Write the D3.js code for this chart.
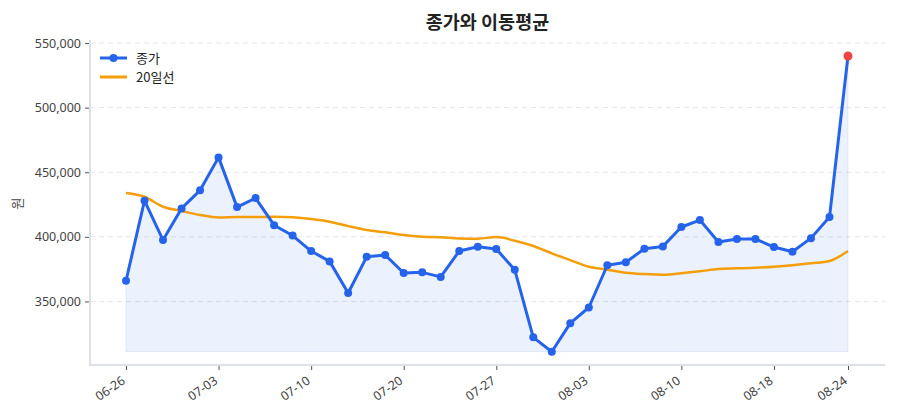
<!DOCTYPE html>
<html>
<head>
<meta charset="utf-8">
<script src="https://cdn.jsdelivr.net/npm/d3@7"></script>
<style>
  html, body { margin: 0; padding: 0; background: #fff; }
  svg { display: block; font-family: "Noto Sans CJK KR", "Noto Sans", sans-serif; }
</style>
</head>
<body>
<svg id="chart" width="900" height="420"></svg>
<script>
const dates = ["06-26","06-29","06-30","07-01","07-02","07-03","07-06","07-07","07-08","07-09",
               "07-10","07-13","07-14","07-15","07-16","07-20","07-21","07-22","07-23","07-24",
               "07-27","07-28","07-29","07-30","07-31","08-03","08-04","08-05","08-06","08-07",
               "08-10","08-11","08-12","08-13","08-14","08-18","08-19","08-20","08-21","08-24"];
const close = [366000,428000,397500,422000,436000,461500,423000,430000,409000,401000,
               389000,381000,356500,384500,386000,372000,372500,369000,389000,392300,
               390600,374500,322200,311100,333200,345300,378000,380300,390800,392600,
               407600,413000,396000,398300,398300,392100,388500,399000,415300,540000];
const ma20 = [434000,431000,423300,420000,416900,415000,415300,415300,415500,415100,
              413800,411700,408300,405300,403500,401400,400100,399600,398800,398600,
              399800,397000,392900,387200,382000,376900,374600,372200,371200,370700,
              371800,373300,375100,375600,376100,376900,378000,379500,381300,389000];
const tickLabels = ["06-26","07-03","07-10","07-20","07-27","08-03","08-10","08-18","08-24"];
const yTicks = [350000,400000,450000,500000,550000];
const seriesNames = ["종가","20일선"];
const titleText = "종가와 이동평균";
const yLabel = "원";

const svg = d3.select("#chart");
const mLeft = 90, mRight = 885, mTop = 42, mBottom = 365;

const x = d3.scalePoint().domain(dates).range([126, 848]);
const y = d3.scaleLinear().domain([300800, 550800]).range([mBottom, mTop]);

// grid
svg.append("g").selectAll("line").data(yTicks).join("line")
  .attr("x1", mLeft).attr("x2", mRight)
  .attr("y1", d => y(d)).attr("y2", d => y(d))
  .attr("stroke", "#e3e5ea").attr("stroke-dasharray", "5,4").attr("stroke-width", 1);

// area
const base = d3.min(close);
const area = d3.area().x((d, i) => x(dates[i])).y0(y(base)).y1(d => y(d));
svg.append("path").datum(close).attr("d", area)
  .attr("fill", "rgba(37,99,235,0.085)").attr("stroke", "rgba(37,99,235,0.10)").attr("stroke-width", 1);

// axes
const yAxis = d3.axisLeft(y).tickValues(yTicks).tickFormat(d3.format(",")).tickSize(5).tickPadding(4);
const gy = svg.append("g").attr("transform", `translate(${mLeft},0)`).call(yAxis);
gy.select(".domain").remove();
gy.append("line").attr("x1", 0).attr("x2", 0).attr("y1", mTop - 2).attr("y2", mBottom)
  .attr("stroke", "#dde0e6").attr("stroke-width", 2);
gy.selectAll(".tick line").attr("stroke", "#555");
gy.selectAll(".tick text").attr("fill", "#444").attr("font-size", 12.5)
  .attr("font-family", "'Noto Sans', sans-serif");

const xAxis = d3.axisBottom(x).tickValues(tickLabels).tickSize(5).tickPadding(6);
const gx = svg.append("g").attr("transform", `translate(0,${mBottom})`).call(xAxis);
gx.select(".domain").remove();
gx.append("line").attr("x1", mLeft - 1).attr("x2", mRight).attr("y1", 0).attr("y2", 0)
  .attr("stroke", "#dde0e6").attr("stroke-width", 2);
gx.selectAll(".tick line").attr("stroke", "#555");
gx.selectAll(".tick text").attr("fill", "#444").attr("font-size", 12.5)
  .attr("font-family", "'Noto Sans', sans-serif")
  .attr("text-anchor", "end").attr("y", 0).attr("dy", "0.35em")
  .attr("transform", "translate(-3,14) rotate(-35)");

// MA line
const maLine = d3.line().x((d, i) => x(dates[i])).y(d => y(d)).curve(d3.curveMonotoneX);
svg.append("path").datum(ma20).attr("d", maLine)
  .attr("fill", "none").attr("stroke", "#f59e0b").attr("stroke-width", 2.5);

// close line
const cLine = d3.line().x((d, i) => x(dates[i])).y(d => y(d));
svg.append("path").datum(close).attr("d", cLine)
  .attr("fill", "none").attr("stroke", "#2563eb").attr("stroke-width", 3).attr("stroke-linejoin", "round");

svg.append("g").selectAll("circle").data(close.slice(0, -1)).join("circle")
  .attr("cx", (d, i) => x(dates[i])).attr("cy", d => y(d)).attr("r", 4)
  .attr("fill", "#2563eb");
svg.append("circle").attr("cx", x(dates[dates.length - 1])).attr("cy", y(close[close.length - 1]))
  .attr("r", 4.5).attr("fill", "#ef4444");

// title
svg.append("text").attr("x", (mLeft + mRight) / 2).attr("y", 29).attr("text-anchor", "middle")
  .attr("font-size", 18.5).attr("font-weight", "bold").attr("fill", "#222").text(titleText);

// y label
svg.append("text").attr("transform", `translate(22,${(mTop + mBottom) / 2}) rotate(-90)`)
  .attr("text-anchor", "middle").attr("font-size", 13).attr("fill", "#444").text(yLabel);

// legend
const lg = svg.append("g");
lg.append("line").attr("x1", 100).attr("x2", 127).attr("y1", 58).attr("y2", 58)
  .attr("stroke", "#2563eb").attr("stroke-width", 3);
lg.append("circle").attr("cx", 113.5).attr("cy", 58).attr("r", 4).attr("fill", "#2563eb");
lg.append("text").attr("x", 136).attr("y", 58).attr("dy", "0.35em").attr("font-size", 13)
  .attr("fill", "#222").text(seriesNames[0]);
lg.append("line").attr("x1", 100).attr("x2", 127).attr("y1", 77).attr("y2", 77)
  .attr("stroke", "#f59e0b").attr("stroke-width", 3);
lg.append("text").attr("x", 136).attr("y", 77).attr("dy", "0.35em").attr("font-size", 13)
  .attr("fill", "#222").text(seriesNames[1]);
</script>
</body>
</html>
